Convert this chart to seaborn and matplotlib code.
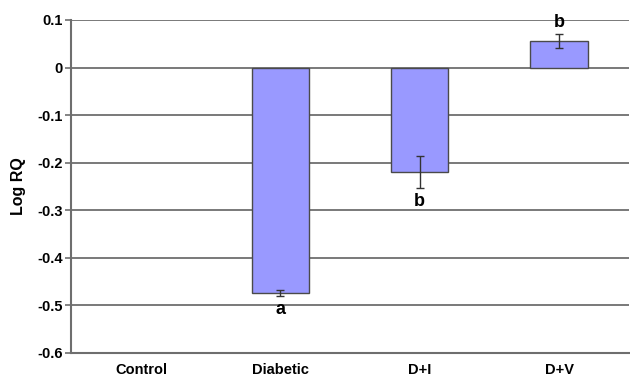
import matplotlib
matplotlib.use("Agg")
import matplotlib.pyplot as plt
import seaborn as sns
import pandas as pd

categories = ["Control", "Diabetic", "D+I", "D+V"]
values = [0.0, -0.474, -0.220, 0.056]
errors = [0.0, 0.006, 0.033, 0.014]
letters = ["", "a", "b", "b"]

sns.set_theme(style="white")
plt.rcParams['font.family'] = ['Liberation Sans', 'DejaVu Sans']
plt.rcParams['text.color'] = 'black'
plt.rcParams['axes.labelcolor'] = 'black'
plt.rcParams['xtick.color'] = 'black'
plt.rcParams['ytick.color'] = 'black'

df = pd.DataFrame({"group": categories, "logrq": values})

fig = plt.figure(figsize=(6.3, 3.77), dpi=100)
ax = fig.add_axes([0.113, 0.064, 0.885, 0.883])

ax.set_ylim(-0.6, 0.1)
ax.set_yticks([0.1, 0, -0.1, -0.2, -0.3, -0.4, -0.5, -0.6])
ax.set_yticklabels(["0.1", "0", "-0.1", "-0.2", "-0.3", "-0.4", "-0.5", "-0.6"])
for yv in [0.1, 0, -0.1, -0.2, -0.3, -0.4, -0.5]:
    ax.axhline(yv, color="#6e6e6e", lw=1.3, zorder=0)

sns.barplot(data=df, x="group", y="logrq", color="#9999ff", saturation=1,
            width=0.41, edgecolor="#4a4a4a", linewidth=1.0, ax=ax, zorder=2)
for p in ax.patches:
    if abs(p.get_height()) < 1e-9:
        p.set_edgecolor("none")

xs = list(range(len(categories)))
for x, v, e, lab in zip(xs, values, errors, letters):
    if e > 0:
        ax.errorbar(x, v, yerr=e, fmt="none", ecolor="#333333", elinewidth=1.0,
                    capsize=3, capthick=1.0, zorder=3)
    if lab:
        if v < 0:
            ax.text(x, v - e - 0.010, lab, ha="center", va="top", fontsize=13,
                    fontweight="bold", color="black")
        else:
            ax.text(x, v + e + 0.006, lab, ha="center", va="bottom", fontsize=13,
                    fontweight="bold", color="black")

ax.set_xlim(-0.5, 3.5)
ax.set_xlabel("")
ax.set_ylabel("Log RQ", fontsize=11.5, fontweight="bold", labelpad=8, color="black")
for lab in ax.get_xticklabels() + ax.get_yticklabels():
    lab.set_fontweight("bold")
    lab.set_fontsize(10.5)
    lab.set_color("black")
ax.tick_params(axis="y", left=True, length=4, width=1.2, color="#6e6e6e", pad=2)
ax.tick_params(axis="x", bottom=False, pad=1)

sns.despine(ax=ax, top=True, right=True)
ax.spines["left"].set_color("#6e6e6e")
ax.spines["left"].set_linewidth(1.5)
ax.spines["bottom"].set_color("#6e6e6e")
ax.spines["bottom"].set_linewidth(1.5)

fig.savefig("out.png", dpi=100, facecolor="white")
